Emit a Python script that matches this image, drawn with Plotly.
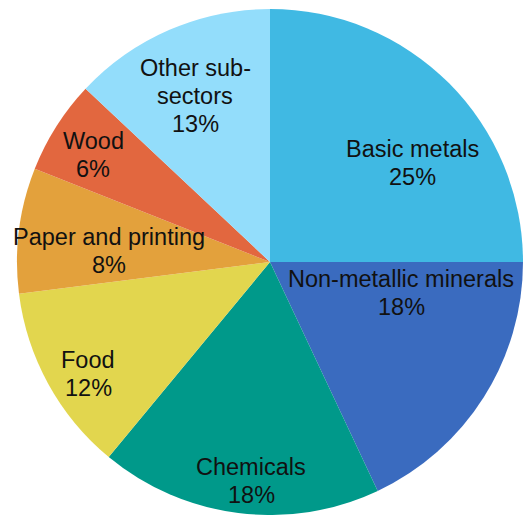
import plotly.graph_objects as go

W, H = 523, 515

# data
sectors = [
    "Basic metals",
    "Non-metallic minerals",
    "Chemicals",
    "Food",
    "Paper and printing",
    "Wood",
    "Other sub-sectors",
]
label_lines = [
    ["Basic metals"],
    ["Non-metallic minerals"],
    ["Chemicals"],
    ["Food"],
    ["Paper and printing"],
    ["Wood"],
    ["Other sub-", "sectors"],
]
shares = [25, 18, 18, 12, 8, 6, 13]
colors = ["#40B9E3", "#3A6BBF", "#00998A", "#E2D64E", "#E3A13C", "#E2673F", "#93DDFB"]

# label block: centre x and first line centre y, in screen pixels
label_pos = [
    (412, 149),
    (401, 279),
    (251, 467),
    (88, 360),
    (109, 237),
    (93, 141),
    (195, 68),
]
LINE = 28

# pie centre and radius in screen pixels
cx, cy, r = 270, 262, 253


def fx(x):
    return x / W


def fy(y):
    return 1 - y / H


fig = go.Figure(
    go.Pie(
        labels=sectors,
        values=shares,
        sort=False,
        direction="clockwise",
        rotation=0,
        textinfo="none",
        marker=dict(colors=colors, line=dict(width=0)),
        showlegend=False,
        domain=dict(
            x=[fx(cx - r), fx(cx + r)],
            y=[fy(cy + r), fy(cy - r)],
        ),
    )
)

for lines, val, (px_, py_) in zip(label_lines, shares, label_pos):
    for i, txt in enumerate(lines + [f"{val}%"]):
        fig.add_annotation(
            x=fx(px_),
            y=fy(py_ + i * LINE),
            xref="paper",
            yref="paper",
            xanchor="center",
            yanchor="middle",
            text=txt,
            showarrow=False,
            font=dict(family="Liberation Sans, Arial, sans-serif", size=23.5, color="#111111"),
        )

fig.update_layout(
    width=W,
    height=H,
    margin=dict(l=0, r=0, t=0, b=0),
    paper_bgcolor="white",
    plot_bgcolor="white",
)

# drop the default page margin so the figure sits at the window's corner
fig.write_html(
    "out.html",
    config={"displayModeBar": False},
    post_script="document.body.style.margin='0';document.body.style.overflow='hidden';",
)
